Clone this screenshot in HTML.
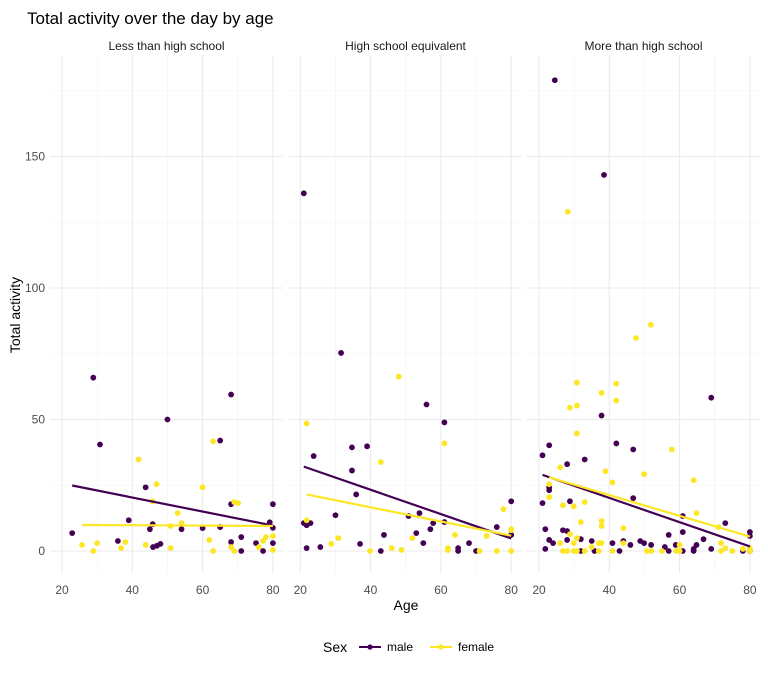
<!DOCTYPE html>
<html><head><meta charset="utf-8"><style>
body{margin:0;background:#fff;font-family:"Liberation Sans",Arial,sans-serif}
svg text{font-family:"Liberation Sans",Arial,sans-serif}
</style></head><body>
<svg id="chart" width="768" height="672" xmlns="http://www.w3.org/2000/svg">
<text x="27" y="24" font-size="17" fill="#000">Total activity over the day by age</text>
<g id="grid"></g><g id="marks"></g><g id="axes"></g>
<text x="406" y="610" font-size="14" text-anchor="middle" fill="#000">Age</text>
<text transform="translate(20,315) rotate(-90)" font-size="14" text-anchor="middle" fill="#000">Total activity</text>
<g>
<text x="323" y="652" font-size="14" fill="#000">Sex</text>
<g><line x1="359" y1="647" x2="381" y2="647" stroke="#440154" stroke-width="2"/><circle cx="370" cy="647" r="2.6" fill="#440154"/><text x="387" y="651" font-size="12" fill="#000">male</text></g>
<g><line x1="430" y1="647" x2="452" y2="647" stroke="#fde725" stroke-width="2"/><circle cx="441" cy="647" r="2.6" fill="#fde725"/><text x="458" y="651" font-size="12" fill="#000">female</text></g>
</g>
</svg>
<script>
const facets = ["Less than high school","High school equivalent","More than high school"];
const yTicks = [0,50,100,150];
const xTicks = [20,40,60,80];
const maleAge = [
 [28.9,68.1,50,65,30.8,43.8,68.1,80,39,79.1,22.9,45.8,45,54,60,65,80,35.9,45.9,47,48,68.1,71,71,75.2,77.2,80],
 [21,31.6,55.9,61,23.8,34.7,39,34.7,35.9,30,21,21.8,22.9,50.8,53.9,57.8,61,57,53,43.8,55,68,75.9,80,80,21.8,25.7,37,42.9,64.9,64.9,70],
 [24.5,38.5,37.8,42,22.9,21,46.8,33,28,69,46.8,21,22.9,22.9,28.8,60.9,73,60.9,56.9,21.8,26.8,28,22.9,24,28,31.9,35,40.9,44,46,48.8,49.9,51.9,55.8,58.9,64.8,64,66.8,69,80,80,80,21.8,31.9,35.8,42.9,56.9,60.9,64,78]
];
const maleVal = [
 [65.9,59.5,50,42,40.5,24.2,17.8,17.8,11.7,10.9,6.8,10.2,8.3,8.3,8.7,9.1,8.8,3.8,1.5,2,2.7,3.4,5.3,0,3,0,3],
 [10.6,75.3,55.7,48.9,36.1,39.4,39.8,30.6,21.5,13.6,136,9.8,10.6,13.3,14.4,10.6,11,8.3,6.8,6.1,3,3,9.1,18.9,6.1,1.1,1.5,2.7,0,1.1,0,0],
 [179,143,51.5,40.9,40.2,36.4,38.6,34.8,33,58.3,20.1,18.2,23.1,24.2,18.9,13.3,10.6,7.2,6.1,8.3,7.9,7.6,4.2,3,4.2,4.5,3.8,3,3.8,2.3,3.8,3,2.3,1.5,2.3,2.3,0.8,4.5,0.8,7.2,5.7,0,0.8,0,0,0,0,0,0,0]
];
const femaleAge = [
 [63,41.8,46.9,60,69,70.1,45.8,52.9,54,50.9,61.9,25.7,30,28.9,36.8,38,43.8,50.9,63,68.1,69,76,77.2,78,80,80],
 [48,21.8,61,42.9,21.8,77.8,80,80,73,64,51.9,30.8,28.8,39.8,46,48.8,62,62,71,75.9,80],
 [28.2,51.8,47.6,30.8,42,37.8,28.8,30.8,42,30.8,57.8,38.9,49.9,26,40.9,64,22.9,22.9,26.8,29.9,33,64.8,31.9,37.8,37.8,44,28.8,30.8,71,26,29.9,35,37,37.8,44,60,71.8,73,78,80,26.8,28,29.9,30.8,33,37,40.9,50.7,52,55,59,60,71.8,75,80]
];
const femaleVal = [
 [41.7,34.8,25.4,24.2,18.6,18.2,18.9,14.4,10.6,9.5,4.2,2.3,3,0,1.1,3.4,2.3,1.1,0,1.5,0,1.5,3.8,5.3,5.7,0.4],
 [66.3,48.5,40.9,33.8,11.7,15.9,8.3,7.9,5.7,6.1,4.9,4.9,2.7,0,1.1,0.4,1.1,0.4,0,0,0],
 [129,86,81,64,63.6,60.1,54.5,55.3,57.2,44.7,38.6,30.3,29.2,31.8,26.1,26.9,25.4,20.5,17.4,17,18.6,14.4,11,11.4,9.5,8.7,6.4,4.9,9.1,3,3,1.5,3,3,3,2.3,3,1.1,0.8,1.1,0,0,0,0,0,0,0,0,0,0,0,0,0,0,0]
];
</script>
<script>
const NS="http://www.w3.org/2000/svg";
const panelX0=[62,300.3,539], pxPerYear=3.515;
const panelL=[50,289,527], panelW=233, panelTop=55, panelBottom=573;
function xs(p,a){return panelX0[p]+(a-20)*pxPerYear;}
function ys(v){return 551-v*2.63;}
function mk(tag,attrs,parent){const e=document.createElementNS(NS,tag);for(const k in attrs)e.setAttribute(k,attrs[k]);parent.appendChild(e);return e;}
const gridG=document.getElementById('grid'),marksG=document.getElementById('marks'),axesG=document.getElementById('axes');
for(let p=0;p<3;p++){
  for(const v of [25,75,125,175]){const l=mk('line',{x1:panelL[p],x2:panelL[p]+panelW,y1:ys(v),y2:ys(v),stroke:'#f3f3f3','stroke-width':0.6},gridG);
    
    }
  for(const a of [30,50,70]){const l=mk('line',{x1:xs(p,a),x2:xs(p,a),y1:panelTop,y2:panelBottom,stroke:'#f3f3f3','stroke-width':0.6},gridG);
    
    }
  for(const v of yTicks){const l=mk('line',{x1:panelL[p],x2:panelL[p]+panelW,y1:ys(v),y2:ys(v),stroke:'#ebebeb','stroke-width':1.1},gridG);
    
    }
  for(const a of xTicks){const l=mk('line',{x1:xs(p,a),x2:xs(p,a),y1:panelTop,y2:panelBottom,stroke:'#ebebeb','stroke-width':1.1},gridG);
    
    
    const t=mk('text',{x:xs(p,a),y:594,'font-size':12,'text-anchor':'middle',fill:'#4d4d4d'},axesG);t.textContent=a;
    
    }
  const s=mk('text',{x:panelL[p]+panelW/2,y:50,'font-size':12,'text-anchor':'middle',fill:'#1a1a1a'},axesG);s.textContent=facets[p];
  
  
  const series=[[maleAge[p],maleVal[p],'#440154','male'],[femaleAge[p],femaleVal[p],'#fde725','female']];
  for(const [ax,vv,col,nm] of series){
    for(let i=0;i<ax.length;i++){const c=mk('circle',{cx:xs(p,ax[i]),cy:ys(vv[i]),r:2.9,fill:col},marksG);
      
      }
  }
  for(const [ax,vv,col,nm] of series){
    const n=ax.length;let mx=0,my=0;for(let i=0;i<n;i++){mx+=ax[i];my+=vv[i];}mx/=n;my/=n;
    let sxy=0,sxx=0;for(let i=0;i<n;i++){sxy+=(ax[i]-mx)*(vv[i]-my);sxx+=(ax[i]-mx)**2;}
    const b=sxy/sxx,a0=my-b*mx;const lo=Math.min(...ax),hi=Math.max(...ax);
    const l=mk('line',{x1:xs(p,lo),y1:ys(a0+b*lo),x2:xs(p,hi),y2:ys(a0+b*hi),stroke:col,'stroke-width':2.2},marksG);
    
    
  }
}
for(const v of yTicks){const t=mk('text',{x:45,y:ys(v)+4,'font-size':12,'text-anchor':'end',fill:'#4d4d4d'},axesG);t.textContent=v;
  
  }
</script>
</body></html>
